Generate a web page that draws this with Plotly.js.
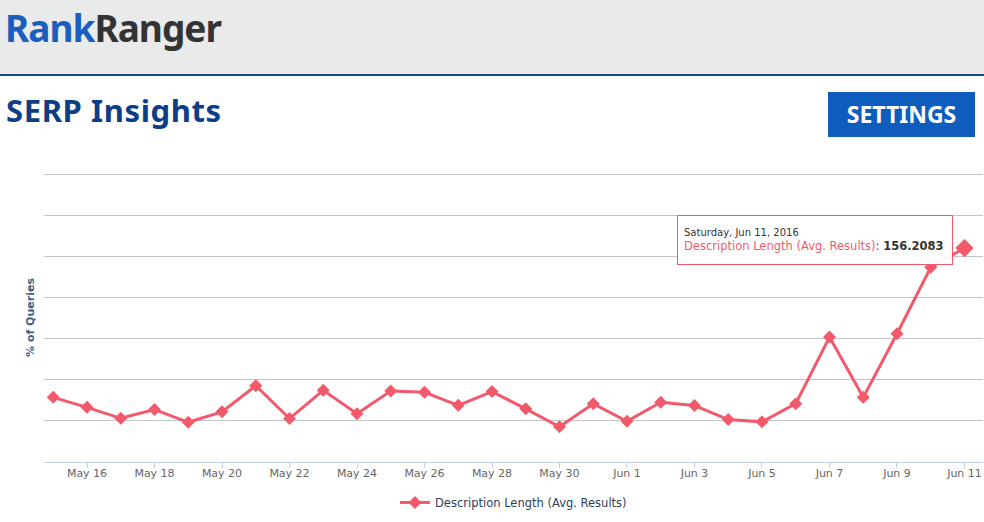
<!DOCTYPE html>
<html>
<head>
<meta charset="utf-8">
<script src="https://cdn.plot.ly/plotly-3.0.1.min.js"></script>
<style>
  html, body { margin:0; padding:0; background:#fff; width:984px; height:522px; overflow:hidden; }
  #chart { position:absolute; left:0; top:0; width:984px; height:522px; }
  #header { position:absolute; left:0; top:0; width:984px; height:74px; background:#e9eaea; border-bottom:2px solid #1b4786; z-index:5; }
  #logo { position:absolute; left:5px; top:2px; font-family:"Noto Sans", sans-serif; font-weight:700; font-size:37px; letter-spacing:-1px; }
  #logo .a { color:#1a5fc0; }
  #logo .b { color:#333333; }
  #title { position:absolute; left:6px; top:89px; font-family:"Noto Sans", sans-serif; font-weight:700; font-size:31px; color:#0d3d85; z-index:5; letter-spacing:0.6px; }
  #btn { position:absolute; left:828px; top:92px; width:147px; height:45px; background:#0f5cbf; color:#fff; font-family:"Noto Sans", sans-serif; font-weight:700; font-size:23px; line-height:45px; text-align:center; z-index:5; }
</style>
</head>
<body>
<div id="chart"></div>
<div id="header"><div id="logo"><span class="a">Rank</span><span class="b">Ranger</span></div></div>
<div id="title">SERP Insights</div>
<div id="btn">SETTINGS</div>
<script>
const dates = ["2016-05-15","2016-05-16","2016-05-17","2016-05-18","2016-05-19","2016-05-20","2016-05-21",
  "2016-05-22","2016-05-23","2016-05-24","2016-05-25","2016-05-26","2016-05-27","2016-05-28",
  "2016-05-29","2016-05-30","2016-05-31","2016-06-01","2016-06-02","2016-06-03","2016-06-04",
  "2016-06-05","2016-06-06","2016-06-07","2016-06-08","2016-06-09","2016-06-10","2016-06-11"];
const values = [47.2, 39.9, 31.9, 38.3, 29.0, 36.6, 55.7,
  31.7, 52.3, 35.3, 51.9, 50.9, 41.4, 51.4,
  38.8, 25.7, 42.6, 29.7, 43.6, 41.2, 31.0,
  29.3, 42.6, 91.2, 47.2, 93.6, 142.2, 156.2083];
const seriesName = "Description Length (Avg. Results)";
const yTitle = "% of Queries";
const tooltipDate = "Saturday, Jun 11, 2016";

const red = "#f25a6b";
const last = dates.length - 1;

const traces = [
  {
    x: dates, y: values, type: "scatter", mode: "lines+markers", name: seriesName,
    line: { color: red, width: 3 },
    marker: { color: red, symbol: "diamond", size: 10 },
    hoverinfo: "skip"
  },
  {
    x: [dates[last]], y: [values[last]], type: "scatter", mode: "markers", showlegend: false,
    marker: { color: red, symbol: "diamond", size: 14 },
    hoverinfo: "skip"
  }
];

const layout = {
  width: 984, height: 522,
  margin: { l: 44, r: 1, t: 173, b: 60 },
  paper_bgcolor: "#ffffff", plot_bgcolor: "#ffffff",
  font: { family: "DejaVu Sans, sans-serif", size: 11, color: "#666666" },
  showlegend: true,
  legend: {
    orientation: "h", x: 0.5, xanchor: "center", y: -0.14, yanchor: "middle",
    font: { family: "DejaVu Sans, sans-serif", size: 11.5, color: "#2b3f5c" },
    bgcolor: "rgba(0,0,0,0)"
  },
  xaxis: {
    type: "date",
    range: ["2016-05-14 17:25", "2016-06-11 13:10"],
    tick0: "2016-05-16", dtick: 2 * 86400000,
    tickformat: "%b %-d",
    ticks: "outside", ticklen: 5, tickcolor: "#c0d0e0",
    ticklabelstandoff: -4,
    showline: true, linecolor: "#c0d0e0", linewidth: 1,
    showgrid: false, zeroline: false,
    tickfont: { family: "DejaVu Sans, sans-serif", size: 11, color: "#666666" },
    fixedrange: true
  },
  yaxis: {
    range: [0, 211], dtick: 30, tick0: 0,
    showgrid: true, gridcolor: "#c4c4c4", gridwidth: 1,
    showticklabels: false, zeroline: false, showline: false, ticks: "",
    automargin: false,
    title: { text: yTitle, standoff: 6, font: { family: "DejaVu Sans, sans-serif", size: 11, color: "#3e5f86", weight: "bold" } },
    fixedrange: true
  },
  annotations: [
    {
      xref: "x", yref: "y", x: dates[last], y: values[last],
      xanchor: "right", yanchor: "middle", xshift: -11, yshift: 8,
      showarrow: false, align: "left", valign: "middle",
      width: 262, height: 36,
      text: "<span style='font-size:10px;color:#333333'>" + tooltipDate + "</span><br>" +
            "<span style='color:" + red + "'>" + seriesName + "</span><span style='color:#333333'>: </span>" +
            "<b style='color:#333333'>" + values[last].toFixed(4) + "</b>",
      font: { family: "DejaVu Sans, sans-serif", size: 11.5, color: "#333333" },
      bgcolor: "rgba(255,255,255,0.96)", bordercolor: red, borderwidth: 1, borderpad: 6
    }
  ]
};

Plotly.newPlot("chart", traces, layout, { displayModeBar: false, staticPlot: true });
</script>
</body>
</html>
